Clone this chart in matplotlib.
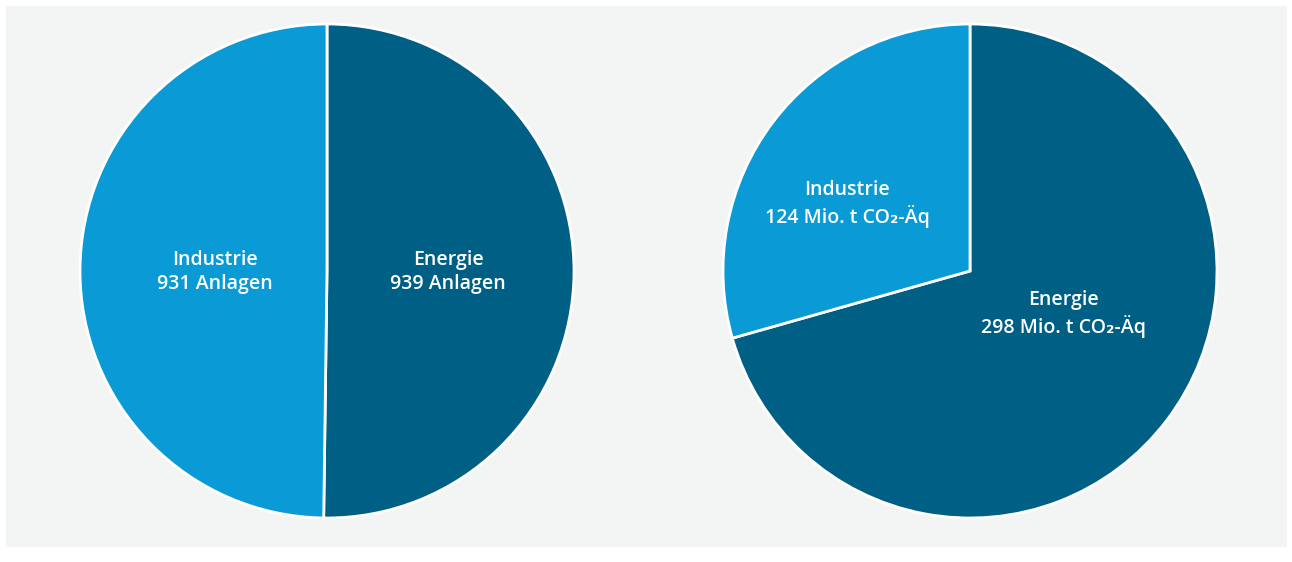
import matplotlib
matplotlib.use("Agg")
import matplotlib.pyplot as plt
from matplotlib.patches import Rectangle

plt.rcParams['font.family'] = ['Open Sans', 'DejaVu Sans']

categories = ["Energie", "Industrie"]
anlagen = [939, 931]
emissionen = [298, 124]
labels_left = ["Energie\n939 Anlagen", "Industrie\n931 Anlagen"]
labels_right = ["Energie\n298 Mio. t CO\u2082-Äq", "Industrie\n124 Mio. t CO\u2082-Äq"]

colors = ["#005f85", "#0a9bd6"]
bg = "#f3f4f4"

W, H = 1292, 562
fig = plt.figure(figsize=(W / 100, H / 100), dpi=100)
fig.patch.set_facecolor("white")
fig.add_artist(Rectangle((6 / W, 1 - 547 / H), (1287 - 6) / W, (547 - 6) / H,
                         transform=fig.transFigure, facecolor=bg, edgecolor="none", zorder=0))

def make_ax(cx, cy, r):
    ax = fig.add_axes([(cx - r) / W, 1 - (cy + r) / H, 2 * r / W, 2 * r / H])
    ax.axis("off")
    return ax

R = 247
axL = make_ax(327, 271, R)
axR = make_ax(970, 271, R)

for ax, vals in ((axL, anlagen), (axR, emissionen)):
    ax.pie(vals, colors=colors, startangle=90, counterclock=False, radius=1,
           wedgeprops=dict(edgecolor="white", linewidth=2))
    ax.set_xlim(-1, 1)
    ax.set_ylim(-1, 1)
    ax.set_aspect("equal")

txt = dict(color="white", fontsize=14, fontweight="semibold", ha="center",
           va="center", linespacing=1.3)
axL.text(0.49, -0.005, labels_left[0], **txt)
axL.text(-0.453, -0.005, labels_left[1], **txt)
axR.text(0.377, -0.175, labels_right[0], **txt)
axR.text(-0.498, 0.27, labels_right[1], **txt)

fig.savefig("out.png", dpi=100, facecolor=fig.get_facecolor())
